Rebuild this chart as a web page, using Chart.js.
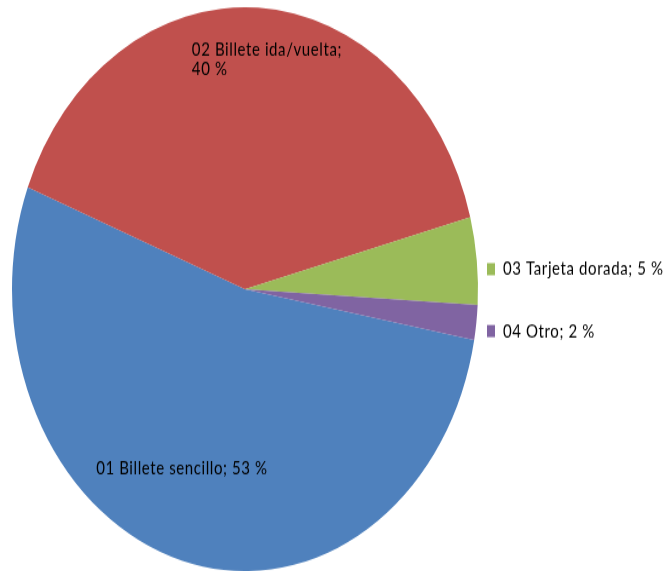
<!DOCTYPE html>
<html><head><meta charset="utf-8">
<script src="https://cdn.jsdelivr.net/npm/chart.js@4"></script>
<style>
html,body{margin:0;padding:0;background:#fff;overflow:hidden;}
#wrap{width:665px;height:571px;overflow:hidden;position:relative;background:#fff;}
#c{position:absolute;left:0;top:0;transform-origin:0 0;transform:scaleY(1.21);}
</style></head><body>
<div id="wrap"><canvas id="c" width="665" height="472" style="width:665px;height:472px"></canvas></div>
<script>
const categories = ['01 Billete sencillo', '02 Billete ida/vuelta', '03 Tarjeta dorada', '04 Otro'];
const shares = [53, 40, 5, 2];
const colors = ['#4F81BD', '#C0504D', '#9BBB59', '#8064A2'];

const FONT = '15px Lato';
const labelStyle = [
  {inside: true, frac: 0.69, dAngle: 7.3, wrap: false},
  {inside: true, frac: 0.82, dAngle: 3.4, wrap: true},
  {inside: false, dy: 7},
  {inside: false, dy: 7}
];

const labelPlugin = {
  id: 'sliceLabels',
  afterDatasetsDraw(chart) {
    const ctx = chart.ctx;
    const meta = chart.getDatasetMeta(0);
    ctx.save();
    ctx.font = FONT;
    try { ctx.letterSpacing = '0.6px'; } catch (e) {}
    ctx.textBaseline = 'alphabetic';
    ctx.textAlign = 'left';
    meta.data.forEach((arc, i) => {
      const mid = (arc.startAngle + arc.endAngle) / 2;
      const cfg = labelStyle[i];
      const pct = shares[i] + ' %';
      if (cfg.inside) {
        const a = mid + cfg.dAngle * Math.PI / 180;
        const px = arc.x + Math.cos(a) * arc.outerRadius * cfg.frac;
        const py = arc.y + Math.sin(a) * arc.outerRadius * cfg.frac;
        const lines = cfg.wrap ? [categories[i] + ';', pct] : [categories[i] + '; ' + pct];
        const w = Math.max(...lines.map(l => ctx.measureText(l).width));
        const lh = 16.5;
        ctx.fillStyle = '#000';
        lines.forEach((l, k) => ctx.fillText(l, px - w / 2, py + 5 + (k - (lines.length - 1) / 2) * lh));
      } else {
        const py = arc.y + Math.sin(mid) * arc.outerRadius + cfg.dy;
        const mx = arc.x + arc.outerRadius + 9;
        ctx.fillStyle = colors[i];
        ctx.fillRect(mx, py - 5, 8, 10);
        ctx.fillStyle = '#000';
        ctx.fillText(categories[i] + '; ' + pct, mx + 16, py + 5);
      }
    });
    ctx.restore();
  }
};

new Chart(document.getElementById('c'), {
  type: 'pie',
  data: {
    labels: categories,
    datasets: [{
      data: shares,
      backgroundColor: colors,
      borderWidth: 0
    }]
  },
  options: {
    responsive: false,
    animation: false,
    rotation: 100.4,
    layout: {padding: {left: 12, right: 187, top: 6, bottom: 0}},
    plugins: {legend: {display: false}, tooltip: {enabled: false}}
  },
  plugins: [labelPlugin]
});
</script>
</body></html>
